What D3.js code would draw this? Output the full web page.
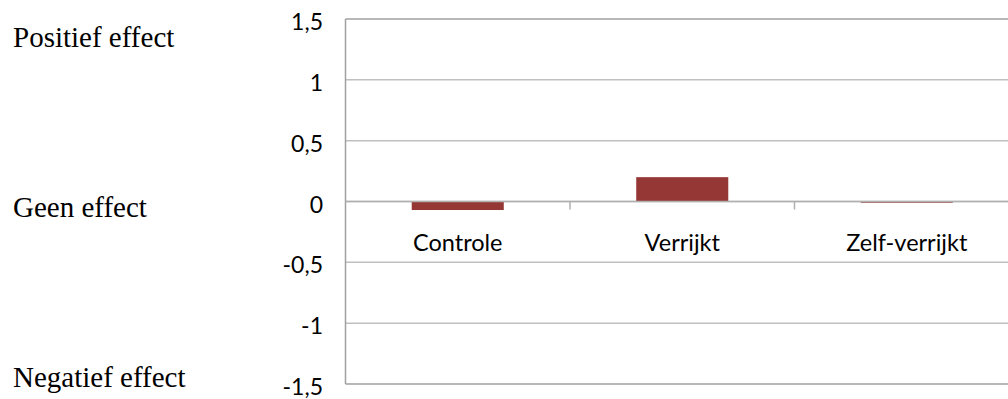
<!DOCTYPE html>
<html>
<head>
<meta charset="utf-8">
<script src="https://cdn.jsdelivr.net/npm/d3@7"></script>
<style>
  html, body { margin: 0; padding: 0; background: #ffffff; }
  svg { display: block; }
</style>
</head>
<body>
<svg id="chart" width="1008" height="399"></svg>
<script>
// Effect per condition
const categories = ["Controle", "Verrijkt", "Zelf-verrijkt"];
const values = [-0.07, 0.2, -0.01];

// Value axis
const yTicks = [1.5, 1, 0.5, 0, -0.5, -1, -1.5];
const yTickLabels = ["1,5", "1", "0,5", "0", "-0,5", "-1", "-1,5"];

// Interpretation labels on the far left
const sideLabels = ["Positief effect", "Geen effect", "Negatief effect"];

const W = 1008, H = 399;
const plot = { left: 345.5, right: 1019, top: 19, bottom: 384 };
const sideBaselines = [47, 217, 387];

const svg = d3.select("#chart");

const x = d3.scaleBand()
  .domain(categories)
  .range([plot.left, plot.right])
  .paddingInner(0).paddingOuter(0);

const y = d3.scaleLinear()
  .domain([-1.5, 1.5])
  .range([plot.bottom, plot.top]);

// label centres sit on a slightly wider spacing than the gridlines
const yLabel = d3.scaleLinear()
  .domain([-1.5, 1.5])
  .range([387, 22]);

const fmt = d3.scaleOrdinal().domain(yTicks).range(yTickLabels);

// horizontal gridlines (inner)
svg.append("g")
  .selectAll("line")
  .data(yTicks.filter(v => v !== 1.5 && v !== -1.5))
  .join("line")
  .attr("x1", plot.left).attr("x2", plot.right)
  .attr("y1", d => y(d)).attr("y2", d => y(d))
  .attr("stroke", "#c0c0c0")
  .attr("stroke-width", 1.5);

// plot area border: top, left, bottom
const border = svg.append("g").attr("stroke", "#a0a0a0").attr("stroke-width", 1.5).attr("fill", "none");
border.append("line").attr("x1", plot.left).attr("x2", plot.right).attr("y1", y(1.5)).attr("y2", y(1.5));
border.append("line").attr("x1", plot.left).attr("x2", plot.right).attr("y1", y(-1.5)).attr("y2", y(-1.5));
border.append("line").attr("x1", plot.left).attr("x2", plot.left).attr("y1", y(1.5)).attr("y2", y(-1.5));

// bars
const barFrac = 0.41;
svg.append("g")
  .selectAll("rect")
  .data(categories.map((c, i) => ({ c, v: values[i] })))
  .join("rect")
  .attr("x", d => x(d.c) + x.bandwidth() * (1 - barFrac) / 2)
  .attr("width", x.bandwidth() * barFrac)
  .attr("y", d => y(Math.max(0, d.v)))
  .attr("height", d => Math.abs(y(d.v) - y(0)))
  .attr("fill", "#953735");

// category axis at zero with boundary ticks
const xAxis = svg.append("g").attr("stroke", "#b0b0b0").attr("stroke-width", 1.5);
xAxis.append("line")
  .attr("x1", plot.left).attr("x2", plot.right)
  .attr("y1", y(0)).attr("y2", y(0));
xAxis.selectAll("line.tick")
  .data(categories.slice(1))
  .join("line")
  .attr("class", "tick")
  .attr("x1", d => x(d)).attr("x2", d => x(d))
  .attr("y1", y(0)).attr("y2", y(0) + 8);

// category labels
svg.append("g")
  .selectAll("text")
  .data(categories)
  .join("text")
  .attr("x", d => x(d) + x.bandwidth() / 2)
  .attr("y", 251)
  .attr("text-anchor", "middle")
  .attr("font-family", "Lato, 'Open Sans', sans-serif")
  .attr("font-size", 23.5)
  .attr("fill", "#000")
  .text(d => d);

// value labels
svg.append("g")
  .selectAll("text")
  .data(yTicks)
  .join("text")
  .attr("x", 323)
  .attr("y", d => yLabel(d))
  .attr("dy", "0.35em")
  .attr("text-anchor", "end")
  .attr("font-family", "Lato, 'Open Sans', sans-serif")
  .attr("font-size", 23)
  .attr("fill", "#000")
  .text(d => fmt(d));

// interpretation labels
svg.append("g")
  .selectAll("text")
  .data(sideLabels)
  .join("text")
  .attr("x", 13)
  .attr("y", (d, i) => sideBaselines[i])
  .attr("font-family", "'Liberation Serif', 'Times New Roman', serif")
  .attr("font-size", 29)
  .attr("fill", "#000")
  .text(d => d);
</script>
</body>
</html>
